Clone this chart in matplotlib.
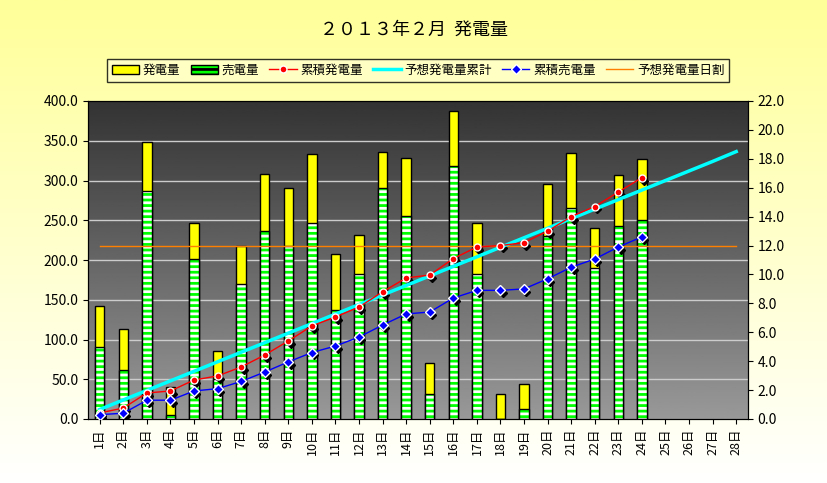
import numpy as np
import matplotlib
matplotlib.use("Agg")
import matplotlib.pyplot as plt

plt.rcParams["font.family"] = ["Noto Sans CJK JP", "DejaVu Sans"]

days = [f"{d}日" for d in range(1, 29)]
# daily generation / sold (left axis)
gen = [142, 113, 348, 40, 247, 86, 217, 308, 290, 333, 208, 232, 336, 328,
       71, 388, 247, 31, 44, 296, 335, 240, 307, 327]
sold = [90, 62, 287, 5, 201, 50, 170, 237, 217, 247, 137, 182, 290, 255,
        32, 318, 183, 0, 12, 230, 266, 190, 243, 250]
# cumulative (right axis)
cum_gen = [0.42, 0.76, 1.8, 1.94, 2.7, 2.98, 3.6, 4.43, 5.4, 6.44, 7.06, 7.75,
           8.8, 9.76, 9.96, 11.1, 11.9, 12.0, 12.2, 13.0, 14.0, 14.7, 15.7, 16.7]
cum_sold = [0.3, 0.4, 1.3, 1.3, 1.94, 2.1, 2.6, 3.25, 3.95, 4.6, 5.05, 5.67,
            6.5, 7.27, 7.4, 8.37, 8.9, 8.9, 9.0, 9.7, 10.5, 11.07, 11.9, 12.6]
plan_cum = [0.66, 1.32, 1.98, 2.64, 3.3, 3.96, 4.62, 5.28, 5.94, 6.6, 7.26,
            7.92, 8.58, 9.24, 9.9, 10.56, 11.22, 11.88, 12.54, 13.2, 13.86,
            14.52, 15.18, 15.84, 16.5, 17.16, 17.82, 18.5]
plan_daily = [12.0] * 28

fig = plt.figure(figsize=(8.28, 4.83), dpi=100)
bg = fig.add_axes([0, 0, 1, 1], zorder=-10)
grad = np.linspace(0, 1, 256).reshape(-1, 1)
ycol = np.dstack([np.ones_like(grad), np.ones_like(grad), 0.6 + 0.4 * grad])
bg.imshow(ycol, aspect="auto", extent=[0, 1, 0, 1], origin="upper")
bg.axis("off")

ax = fig.add_axes([88 / 828, 1 - 419 / 483, 660 / 828, 318 / 483])
ax.imshow(np.linspace(0.2, 0.6, 256).reshape(-1, 1), cmap="gray", vmin=0, vmax=1,
          aspect="auto", extent=[0.5, 28.5, 0, 400], origin="upper", zorder=0)
ax.set_xlim(0.5, 28.5)
ax.set_ylim(0, 400)
for yv in range(50, 400, 50):
    ax.axhline(yv, color="#cccccc", lw=1, zorder=1)

x = np.arange(1, len(gen) + 1)
w = 0.4
ax.bar(x, gen, w, color="#ffff00", edgecolor="black", lw=1, zorder=2, label="発電量")
plt.rcParams["hatch.linewidth"] = 2
ax.bar(x, sold, w, color="#00ff00", edgecolor="white", hatch="---", lw=0, zorder=3)
ax.bar(x, sold, w, color="none", edgecolor="black", lw=1, zorder=4)
ax.bar([0], [0], color="#00ff00", edgecolor="black", hatch="---", label="売電量")

ax.set_xticks(range(1, 29))
ax.set_xticklabels(days, rotation=90, fontsize=9)
ax.set_yticks(range(0, 401, 50))
ax.set_yticklabels([f"{v:.1f}" for v in range(0, 401, 50)], fontsize=10)

ax2 = ax.twinx()
ax2.set_ylim(0, 22)
ax2.set_yticks(np.arange(0, 22.1, 2))
ax2.set_yticklabels([f"{v:.1f}" for v in np.arange(0, 22.1, 2)], fontsize=10)
d = np.arange(1, 29)
ax2.plot(d, plan_daily, color="#ff8000", lw=1, label="予想発電量日割")
ax2.plot(d, plan_cum, color="#00ffff", lw=2.5, label="予想発電量累計", zorder=3)
xc = np.arange(1, len(cum_gen) + 1)
ax2.plot(xc + 0.1, np.array(cum_gen) - 0.2, "D", color="black", ms=4, ls="none")
ax2.plot(xc + 0.1, np.array(cum_sold) - 0.2, "D", color="black", ms=4, ls="none")
ax2.plot(xc, cum_gen, color="red", lw=1, marker="o", ms=5, mfc="red", mec="white",
         label="累積発電量", zorder=4)
ax2.plot(xc, cum_sold, color="blue", lw=1, marker="D", ms=5, mfc="blue", mec="white",
         label="累積売電量", zorder=4)

h1, l1 = ax.get_legend_handles_labels()
h2, l2 = ax2.get_legend_handles_labels()
order = {"発電量": 0, "売電量": 1, "累積発電量": 2, "予想発電量累計": 3,
         "累積売電量": 4, "予想発電量日割": 5}
pairs = sorted(zip(h1 + h2, l1 + l2), key=lambda p: order[p[1]])
fig.legend([p[0] for p in pairs], [p[1] for p in pairs], ncol=6, loc="center",
           bbox_to_anchor=(0.505, 1 - 70 / 483), frameon=True, fontsize=9,
           handlelength=2.2, columnspacing=0.8, handletextpad=0.3,
           facecolor="#ffffcc", edgecolor="black", fancybox=False)
fig.text(0.5, 1 - 30 / 483, "２０１３年２月  発電量", ha="center", va="center", fontsize=13)

fig.savefig("out.png")
